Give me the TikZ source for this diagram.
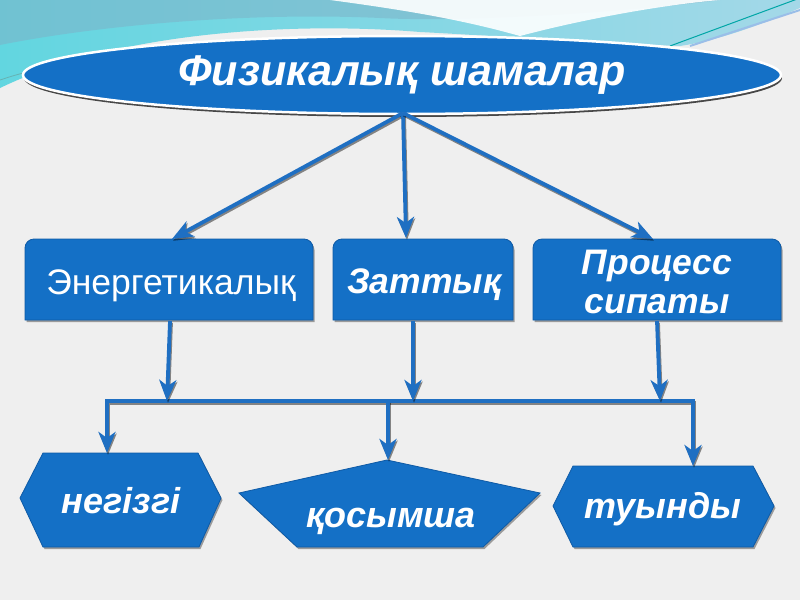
\documentclass[tikz,border=0pt]{standalone}
\usepackage{fontspec}
\setmainfont{Liberation Sans}
\usetikzlibrary{arrows.meta,shapes.geometric,shadows}
\definecolor{bgc}{HTML}{EFEFEF}
\definecolor{fillblue}{HTML}{1470C6}
\definecolor{edgeblue}{HTML}{0E5AA6}
\definecolor{arrblue}{HTML}{1F6FC2}
\definecolor{tealL}{HTML}{62D6E0}
\definecolor{tealT}{HTML}{7DB3C8}
\definecolor{blueR}{HTML}{A4D8E8}
\tikzset{
  shp/.style={fill=fillblue, draw=edgeblue, line width=0.8pt,
    preaction={fill=black, opacity=0.35, transform canvas={xshift=1.5pt,yshift=-2pt}}},
  conn/.style={draw=arrblue, line width=3.8pt, line join=miter,
    -{Stealth[length=21pt,width=17pt,inset=6pt]},
    preaction={draw=black, opacity=0.45, line width=3.8pt,
      -{Stealth[length=21pt,width=17pt,inset=6pt]},
      transform canvas={xshift=1pt,yshift=-1.8pt}}},
  lbl/.style={text=white, font=\bfseries\itshape, anchor=base, inner sep=0pt},
}
\begin{document}
\begin{tikzpicture}[x=1pt,y=-1pt]
\useasboundingbox (0,0) rectangle (800,600);
% background
\fill[bgc] (0,0) rectangle (800,600);
\shade[left color=tealL, right color=blueR]
  (0,0) -- (800,0) -- (800,8) .. controls (760,25) and (720,40) .. (680,46)
  .. controls (600,44) and (500,36) .. (420,32)
  .. controls (300,22) and (120,30) .. (0,88) -- cycle;
\fill[tealT, opacity=0.55] (0,0) -- (720,0) .. controls (600,15) and (450,22) .. (380,18)
  .. controls (250,12) and (100,25) .. (0,45) -- cycle;
\fill[white, opacity=0.9] (330,0) .. controls (420,12) and (470,22) .. (520,36)
  .. controls (580,20) and (660,5) .. (720,0) -- cycle;
\draw[teal!70!cyan, line width=1pt] (670,46) -- (800,-2);
\draw[cyan!60!blue!40, line width=2pt] (690,46) -- (800,10);
\draw[teal!60, line width=0.8pt] (0,80) .. controls (15,75) and (25,72) .. (40,70);
% title
\node[ellipse, fill=fillblue, draw=white, line width=2.5pt, minimum width=758pt,
  minimum height=78pt, inner sep=0pt,
  drop shadow={shadow xshift=1pt, shadow yshift=-3pt, opacity=0.7, fill=black},
  text=white, font=\bfseries\itshape\fontsize{43}{48}\selectfont]
  (title) at (402,75) {Физикалық шамалар};
% middle boxes
\path[shp] (25,320) [rounded corners=9pt] -- (25,239) -- (313,239) [sharp corners] -- (313,320) -- cycle;
\path[shp] (333,320) [rounded corners=9pt] -- (333,239) -- (513,239) [sharp corners] -- (513,320) -- cycle;
\path[shp] (533,320) [rounded corners=9pt] -- (533,239) -- (781,239) [sharp corners] -- (781,320) -- cycle;
\node[text=white, anchor=base, inner sep=0pt, font=\fontsize{35.5}{40}\selectfont] (energ) at (171,294) {Энергетикалық};
\node[lbl, font=\bfseries\itshape\fontsize{35.5}{40}\selectfont] (zat) at (424,293) {Заттық};
\node[lbl, font=\bfseries\itshape\fontsize{35.5}{40}\selectfont] (proc1) at (657,274) {Процесс};
\node[lbl, font=\bfseries\itshape\fontsize{35.5}{40}\selectfont] (proc2) at (657,313) {сипаты};
% bottom shapes
\path[shp] (20,498) -- (43,453) -- (198,453) -- (221,498) -- (199,547) -- (43,547) -- cycle;
\path[shp] (239,493) -- (387,460) -- (540,493) -- (483,547) -- (297,547) -- cycle;
\path[shp] (553,506) -- (573,466) -- (753,466) -- (774,506) -- (753,547) -- (573,547) -- cycle;
\node[lbl, font=\bfseries\itshape\fontsize{36}{44}\selectfont] (neg) at (121,513) {негізгі};
\node[lbl, font=\bfseries\itshape\fontsize{36}{44}\selectfont] (qos) at (391,527) {қосымша};
\node[lbl, font=\bfseries\itshape\fontsize{36}{44}\selectfont] (tuy) at (663,518) {туынды};
% connection points
\coordinate (tsrc) at (403,113);
\coordinate (energTop) at (172,239);
\coordinate (zatTop) at (406,238);
\coordinate (procTop) at (653,239);
\coordinate (energBot) at (170,321);
\coordinate (zatBot) at (413,321);
\coordinate (procBot) at (657,321);
\coordinate (busE) at (167,401);
\coordinate (busZ) at (413,401);
\coordinate (busP) at (660,401);
\coordinate (busM) at (388,401);
\coordinate (negTop) at (107,453);
\coordinate (qosTop) at (388,460);
\coordinate (tuyTop) at (693,466);
% connectors
\draw[conn] (tsrc) -- (energTop);
\draw[conn] (tsrc) -- (zatTop);
\draw[conn] (tsrc) -- (procTop);
\draw[conn] (busM) -| (negTop);
\draw[conn] (busM) -| (tuyTop);
\draw[conn] (busM) -- (qosTop);
\draw[conn] (energBot) -- (busE);
\draw[conn] (zatBot) -- (busZ);
\draw[conn] (procBot) -- (busP);
\end{tikzpicture}
\end{document}
